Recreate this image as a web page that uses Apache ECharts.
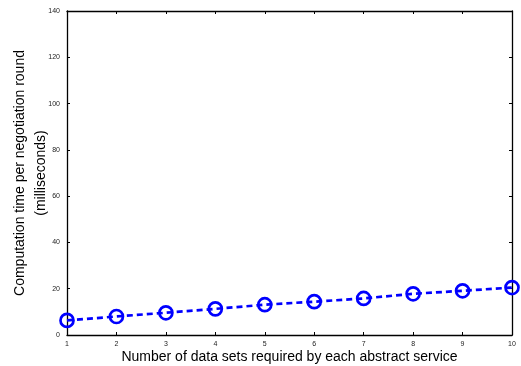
<!DOCTYPE html>
<html>
<head>
<meta charset="utf-8">
<script src="https://cdn.jsdelivr.net/npm/echarts@6/dist/echarts.min.js"></script>
<style>
  html, body { margin: 0; padding: 0; background: #fff; }
  #chart { width: 521px; height: 366px; }
</style>
</head>
<body>
<div id="chart"></div>
<script>
// data
const dataSets = [1, 2, 3, 4, 5, 6, 7, 8, 9, 10];
const compTime = [6.3, 8.0, 9.6, 11.3, 13.1, 14.4, 15.8, 17.8, 19.1, 20.5];

const xTitle = 'Number of data sets required by each abstract service';
const yTitle = 'Computation time per negotiation round\n(milliseconds)';

const font = 'Liberation Sans, Arial, Helvetica, sans-serif';
const blue = '#0000ff';

const chart = echarts.init(document.getElementById('chart'), null, { renderer: 'canvas' });

// MATLAB style box: ticks inside on all four sides
const tickStyle = { show: true, inside: true, length: 3, lineStyle: { color: '#000', width: 1 } };
const lineStyle = { show: true, onZero: false, lineStyle: { color: '#000', width: 1.3 } };

const option = {
  backgroundColor: '#ffffff',
  animation: false,
  grid: { left: 67, right: 9, top: 11, bottom: 31, outerBoundsMode: 'none', containLabel: false },
  xAxis: [{
    type: 'value', min: 1, max: 10, interval: 1,
    axisLine: lineStyle, axisTick: tickStyle, splitLine: { show: false },
    axisLabel: { color: '#222', fontSize: 7, fontFamily: font, margin: 6 },
    name: xTitle, nameLocation: 'middle', nameGap: 15, nameMoveOverlap: false,
    nameTextStyle: { color: '#000', fontSize: 14, fontFamily: font }
  }, {
    type: 'value', min: 1, max: 10, interval: 1, position: 'top',
    axisLine: lineStyle, axisTick: tickStyle, splitLine: { show: false },
    axisLabel: { show: false }
  }],
  yAxis: [{
    type: 'value', min: 0, max: 140, interval: 20,
    axisLine: lineStyle, axisTick: tickStyle, splitLine: { show: false },
    axisLabel: { color: '#222', fontSize: 7, fontFamily: font, margin: 7 },
    name: yTitle, nameLocation: 'middle', nameGap: 15, nameRotate: 90, nameMoveOverlap: false,
    nameTextStyle: { color: '#000', fontSize: 14, fontFamily: font, lineHeight: 21 }
  }, {
    type: 'value', min: 0, max: 140, interval: 20, position: 'right',
    axisLine: lineStyle, axisTick: tickStyle, splitLine: { show: false },
    axisLabel: { show: false }
  }],
  series: [{
    type: 'line',
    data: dataSets.map((x, i) => [x, compTime[i]]),
    symbol: 'circle',
    symbolSize: 13,
    clip: false,
    lineStyle: { color: blue, width: 2.7, type: [6, 4] },
    itemStyle: { color: 'rgba(0,0,0,0)', borderColor: blue, borderWidth: 2.7 }
  }]
};

chart.setOption(option);
</script>
</body>
</html>
